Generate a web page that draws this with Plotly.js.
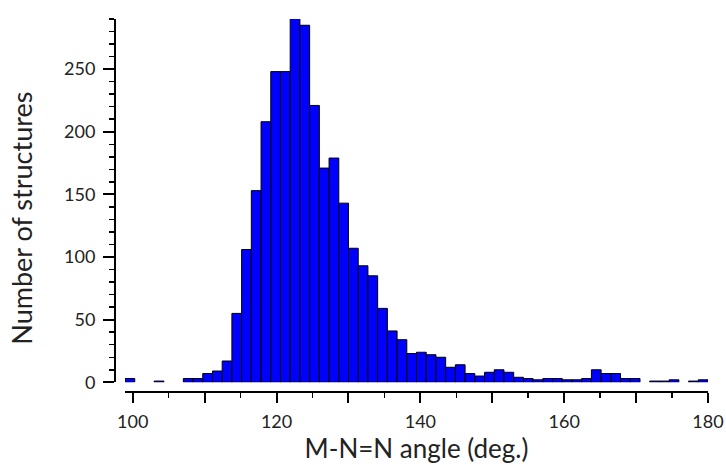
<!DOCTYPE html>
<html>
<head>
<meta charset="utf-8">
<script src="https://cdn.plot.ly/plotly-3.0.1.min.js"></script>
<style>html,body{margin:0;padding:0;background:#fff;}#chart{width:726px;height:465px;}</style>
</head>
<body>
<div id="chart"></div>
<script>
// Histogram bins (degrees)
const binStart = 98.93;
const binWidth = 1.3512;
// Counts per bin (60 bins, 98.93 .. 180)
const counts = [3, 0, 0, 1, 0, 0, 3, 3, 7, 9,
                17, 55, 106, 153, 208, 248, 248, 291, 285, 221,
                171, 179, 143, 107, 93, 85, 59, 41, 34, 23,
                24, 22, 20, 12, 14, 7, 5, 8, 10, 8,
                4, 3, 2, 3, 3, 2, 2, 3, 10, 7,
                7, 3, 3, 0, 1, 1, 2, 0, 1, 2];
const xTickVals = [100, 110, 120, 130, 140, 150, 160, 170, 180];
const xTickText = ['100', '', '120', '', '140', '', '160', '', '180'];
const yTickVals = [0, 50, 100, 150, 200, 250];
const xTitle = 'M-N=N angle (deg.)';
const yTitle = 'Number of structures';

const centers = counts.map((_, i) => binStart + (i + 0.5) * binWidth);
// empty bins draw nothing (no outline at the baseline)
const outlineWidths = counts.map(c => (c > 0 ? 1 : 0));

const font = 'Lato, "Open Sans", sans-serif';

const trace = {
  type: 'bar',
  x: centers,
  y: counts,
  width: binWidth,
  marker: {color: '#0000ff', line: {color: '#000000', width: outlineWidths}},
  cliponaxis: false,
  hoverinfo: 'x+y'
};

const layout = {
  width: 726, height: 465,
  margin: {l: 115, r: 18, t: 19, b: 73, pad: 0},
  paper_bgcolor: '#ffffff', plot_bgcolor: '#ffffff',
  showlegend: false,
  bargap: 0,
  font: {family: font, color: '#000000', size: 18},
  xaxis: {
    domain: [0.0169, 1],
    anchor: 'free', position: 0,
    range: [binStart, 180],
    showgrid: false, zeroline: false,
    showline: true, linecolor: '#000', linewidth: 2,
    ticks: 'outside', ticklen: 10, tickwidth: 2, tickcolor: '#000',
    ticklabelstandoff: 3,
    tickvals: xTickVals, ticktext: xTickText,
    minor: {dtick: 5, tick0: 100, ticks: 'outside', ticklen: 5, tickwidth: 1.5, tickcolor: '#000', showgrid: false},
    tickfont: {family: font, size: 18, color: '#222'},
    title: {text: xTitle, font: {family: font, size: 26, color: '#222'}, standoff: 8}
  },
  yaxis: {
    domain: [0.026, 1],
    anchor: 'free', position: 0,
    range: [0, 290],
    showgrid: false, zeroline: false,
    showline: true, linecolor: '#000', linewidth: 2,
    ticks: 'outside', ticklen: 11, tickwidth: 2, tickcolor: '#000',
    ticklabelstandoff: 4,
    tickvals: yTickVals,
    minor: {dtick: 10, tick0: 0, ticks: 'outside', ticklen: 5, tickwidth: 1.5, tickcolor: '#000', showgrid: false},
    tickfont: {family: font, size: 18, color: '#222'}
  },
  annotations: [{
    text: yTitle,
    xref: 'paper', yref: 'paper',
    x: -0.157, y: 0.467,
    xanchor: 'center', yanchor: 'middle',
    textangle: -90, showarrow: false,
    font: {family: font, size: 27, color: '#222'}
  }]
};

Plotly.newPlot('chart', [trace], layout, {displayModeBar: false, staticPlot: true});
</script>
</body>
</html>
